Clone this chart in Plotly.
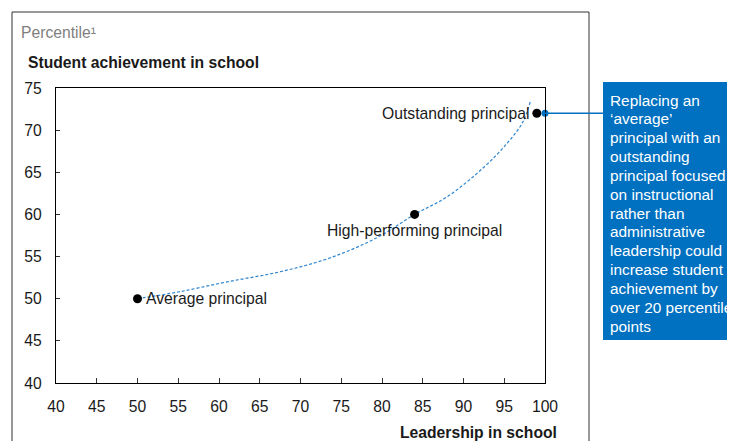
import plotly.graph_objects as go

# Data
point_names = ["Average principal", "High-performing principal", "Outstanding principal"]
leadership = [50, 84, 99]
achievement = [50, 60, 72]

trend_x = [50, 55, 61, 67.5, 73.5, 79.5, 84, 88, 92.5, 95.5, 97.3, 98.2]
trend_y = [50.0, 50.8, 52.0, 53.2, 54.8, 57.3, 60.0, 62.1, 65.6, 68.6, 71.0, 73.4]

x_ticks = list(range(40, 101, 5))
y_ticks = list(range(40, 76, 5))

callout_point = (100, 72)
callout_text = ["Replacing an", "‘average’", "principal with an", "outstanding",
                "principal focused", "on instructional", "rather than", "administrative",
                "leadership could", "increase student", "achievement by",
                "over 20 percentile", "points"]

FONT = "Arial, Liberation Sans, Helvetica, sans-serif"
BLUE = "#0070C0"
FS = 15.7

# page body has an 8px margin; work in reference pixels and shift
OFF = 8
W, H = 735 - OFF, 441 - OFF
L, R, T, B = 56 - OFF, 545 - OFF, 88 - OFF, 383 - OFF
def px(xp):
    return (xp - OFF - L) / (R - L)
def py(yp):
    return (B - (yp - OFF)) / (B - T)

fig = go.Figure()

fig.add_trace(go.Scatter(
    x=trend_x, y=trend_y, mode="lines",
    line=dict(color="#2F86CF", width=1.2, dash="3px,2px", shape="spline"),
    hoverinfo="skip", showlegend=False))

fig.add_trace(go.Scatter(
    x=leadership, y=achievement, mode="markers",
    marker=dict(color="black", size=9),
    showlegend=False, cliponaxis=False))

fig.add_trace(go.Scatter(
    x=[callout_point[0]], y=[callout_point[1]], mode="markers",
    marker=dict(color=BLUE, size=7), showlegend=False, cliponaxis=False))

shapes = [
    dict(type="rect", xref="paper", yref="paper",
         x0=px(12), x1=px(589), y0=py(470), y1=py(12),
         line=dict(color="#333333", width=1), fillcolor="rgba(0,0,0,0)", layer="below"),
    dict(type="rect", xref="paper", yref="paper",
         x0=px(603), x1=px(745), y0=py(340), y1=py(82),
         line=dict(width=0), fillcolor=BLUE),
    dict(type="line", xref="paper", yref="y",
         x0=1.0, x1=px(603), y0=callout_point[1], y1=callout_point[1],
         line=dict(color=BLUE, width=1.5)),
]

annotations = [
    dict(text="Percentile¹", xref="paper", yref="paper",
         x=px(19), y=py(32), xanchor="left", yanchor="middle", showarrow=False,
         font=dict(family=FONT, size=FS, color="#7f7f7f")),
    dict(text="<b>Student achievement in school</b>", xref="paper", yref="paper",
         x=px(26), y=py(62), xanchor="left", yanchor="middle", showarrow=False,
         font=dict(family=FONT, size=FS, color="#1a1a1a")),
    dict(text="<b>Leadership in school</b>", xref="paper", yref="paper",
         x=px(559), y=py(432), xanchor="right", yanchor="middle", showarrow=False,
         font=dict(family=FONT, size=FS, color="#1a1a1a")),
]

# point labels
label_place = [
    dict(xanchor="left", yanchor="middle", xshift=6, yshift=0),
    dict(xanchor="center", yanchor="top", xshift=0, yshift=-6),
    dict(xanchor="right", yanchor="middle", xshift=-6, yshift=0),
]
for name, xv, yv, pl in zip(point_names, leadership, achievement, label_place):
    annotations.append(dict(text=name, x=xv, y=yv, xref="x", yref="y",
                            showarrow=False, font=dict(family=FONT, size=FS, color="#1a1a1a"),
                            **pl))

for i, line in enumerate(callout_text):
    annotations.append(dict(
        text=line, xref="paper", yref="paper",
        x=px(608), y=py(100 + i * 18.85), xanchor="left", yanchor="middle",
        align="left", showarrow=False,
        font=dict(family=FONT, size=15.4, color="white")))

fig.update_layout(
    width=W, height=H,
    margin=dict(l=L, r=W - R, t=T, b=H - B),
    paper_bgcolor="white", plot_bgcolor="white",
    font=dict(family=FONT, size=FS, color="#1a1a1a"),
    shapes=shapes, annotations=annotations,
    showlegend=False,
)
fig.update_xaxes(range=[40, 100], tickvals=x_ticks, ticks="inside", ticklen=5,
                 tickcolor="#333", showline=True, linecolor="black", linewidth=1.2,
                 mirror=True, showgrid=False, zeroline=False, ticklabelstandoff=9,
                 tickfont=dict(family=FONT, size=FS, color="#1a1a1a"))
fig.update_yaxes(range=[40, 75], tickvals=y_ticks, ticks="inside", ticklen=4,
                 tickcolor="#333", showline=True, linecolor="black", linewidth=1.2,
                 mirror=True, showgrid=False, zeroline=False, ticklabelstandoff=10,
                 tickfont=dict(family=FONT, size=FS, color="#1a1a1a"))

fig.write_html("out.html")
